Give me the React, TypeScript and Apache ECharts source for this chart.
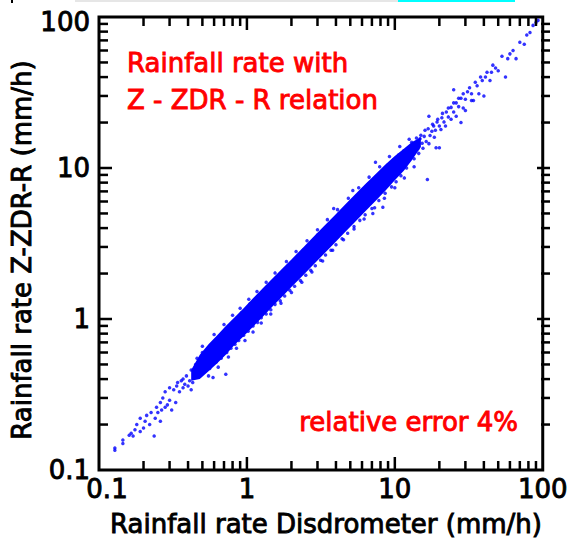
import React, { useEffect, useRef } from "react";
import * as echarts from "echarts";

const axisMin = 0.1;
const axisMax = 100;
const tickLabels = ["0.1", "1", "10", "100"];
const minorTicks = [0.2, 0.3, 0.4, 0.5, 0.6, 0.7, 0.8, 0.9, 2, 3, 4, 5, 6, 7, 8, 9, 20, 30, 40, 50, 60, 70, 80, 90];
const majorTicks = [1, 10];

// dense core of the point cloud (envelope)
const coreX = [0.42, 0.48, 0.55, 0.63, 0.72, 0.82, 0.95, 1.1, 1.3, 1.5, 1.75, 2.0, 2.4, 2.8, 3.3, 3.9, 4.6, 5.4, 6.3, 7.4, 8.6, 10, 11.5, 13, 15];
const coreHigh = [0.46, 0.58, 0.68, 0.78, 0.9, 1.02, 1.18, 1.37, 1.62, 1.87, 2.18, 2.48, 2.98, 3.48, 4.1, 4.83, 5.7, 6.7, 7.8, 9.1, 10.5, 12.0, 13.4, 14.8, 16];
const coreLow = [0.39, 0.4, 0.45, 0.51, 0.58, 0.67, 0.77, 0.89, 1.05, 1.22, 1.42, 1.63, 1.95, 2.28, 2.68, 3.17, 3.75, 4.4, 5.15, 6.05, 7.05, 8.3, 9.6, 11.2, 13.8];

const lowTail = [
  [0.128, 0.14], [0.128, 0.135], [0.145, 0.158], [0.145, 0.15], [0.16, 0.17], [0.165, 0.175], [0.17, 0.168],
  [0.175, 0.185], [0.18, 0.2], [0.19, 0.18], [0.19, 0.22], [0.2, 0.19], [0.205, 0.21], [0.21, 0.23], [0.22, 0.2],
  [0.225, 0.24], [0.236, 0.168], [0.24, 0.22], [0.245, 0.26], [0.25, 0.24], [0.26, 0.21], [0.26, 0.28],
  [0.265, 0.25], [0.27, 0.3], [0.28, 0.26], [0.28, 0.33], [0.29, 0.27], [0.3, 0.35], [0.3, 0.29], [0.31, 0.25],
  [0.32, 0.34], [0.33, 0.28], [0.335, 0.36], [0.34, 0.38], [0.35, 0.33], [0.36, 0.39], [0.37, 0.4], [0.37, 0.35],
  [0.38, 0.37], [0.39, 0.42], [0.4, 0.36], [0.42, 0.34], [0.41, 0.39], [0.42, 0.46], [0.43, 0.38], [0.44, 0.42], [0.45, 0.5],
];

const fringe = [
  [0.46, 0.55], [0.48, 0.42], [0.5, 0.6], [0.52, 0.45], [0.55, 0.64], [0.56, 0.47], [0.59, 0.41], [0.6, 0.7],
  [0.62, 0.52], [0.65, 0.76], [0.67, 0.55], [0.7, 0.82], [0.72, 0.43], [0.73, 0.6], [0.76, 0.9], [0.78, 0.64],
  [0.8, 0.95], [0.83, 0.68], [0.86, 1.02], [0.88, 0.72], [0.92, 1.1], [0.95, 0.78], [0.98, 1.15], [1.02, 0.83],
  [1.05, 1.26], [1.1, 0.9], [1.12, 1.32], [1.18, 0.95], [1.2, 1.42], [1.25, 1.02], [1.3, 1.55], [1.35, 1.08],
  [1.4, 1.65], [1.45, 1.15], [1.5, 1.78], [1.55, 1.25], [1.6, 1.9], [1.68, 1.32], [1.75, 2.05], [1.8, 1.42],
  [1.9, 2.25], [1.95, 1.55], [2.05, 2.4], [2.1, 1.65], [2.2, 2.6], [2.3, 1.8], [2.4, 2.85], [2.5, 1.95],
  [2.6, 3.05], [2.7, 2.1], [2.8, 3.3], [2.9, 2.25], [3.0, 3.6], [3.15, 2.45], [3.3, 3.9], [3.4, 2.65],
  [3.55, 4.2], [3.7, 2.85], [3.86, 5.4], [3.9, 4.6], [4.0, 3.1], [4.2, 5.0], [4.4, 3.4], [4.6, 5.4],
  [4.8, 3.7], [5.0, 5.9], [5.2, 7.1], [5.3, 4.1], [5.5, 6.5], [5.8, 4.5], [6.0, 7.1], [6.3, 4.9],
  [6.6, 7.8], [7.0, 5.4], [7.1, 5.0], [7.4, 10.9], [7.5, 8.8], [7.8, 6.1], [8.2, 9.6], [8.3, 5.5],
  [8.6, 6.8], [9.0, 10.5], [9.5, 7.5], [9.8, 11.3], [10.2, 8.1], [10.6, 12.2], [11.0, 8.9], [11.5, 13.0], [12.0, 10.0],
];

const outer = [
  [0.5, 0.66], [0.55, 0.42], [0.6, 0.79], [0.64, 0.48], [0.7, 0.92], [0.75, 0.56], [0.8, 1.06], [0.85, 0.64],
  [0.9, 1.18], [0.97, 0.72], [1.03, 1.35], [1.1, 0.82], [1.17, 1.52], [1.25, 0.94], [1.35, 1.75], [1.45, 1.08],
  [1.55, 2.02], [1.7, 1.27], [1.85, 2.4], [2.0, 1.5], [2.15, 2.8], [2.35, 1.75], [2.55, 3.3], [2.75, 2.05],
  [3.0, 3.9], [3.25, 2.42], [3.5, 4.55], [3.8, 2.85], [4.1, 5.3], [4.5, 3.35], [4.85, 6.3], [5.3, 3.95],
  [5.7, 7.4], [6.2, 4.6], [6.7, 8.7], [7.3, 5.45], [7.9, 10.2], [8.5, 6.3], [9.2, 11.9], [10, 7.4],
  [10.8, 13.9], [11.6, 8.6], [12.5, 15.5], [13.5, 10.2],
];

const highTail = [
  [13, 14.8], [13.5, 11.5], [14, 15.8], [14.5, 12.5], [15, 16.5], [15.5, 13.5], [16, 17.8], [16.6, 8.4],
  [17, 22], [17, 14.5], [18, 19.5], [18.5, 16], [19, 13.6], [19.5, 21], [20, 13.6], [20.5, 18], [21, 23],
  [22, 19], [23, 25], [24, 21], [25, 33], [25, 27], [26, 22], [27, 29], [28, 20], [29, 25], [29, 31],
  [30, 24], [32, 34], [33, 28], [34, 28], [35, 37], [37, 31], [38, 40], [40, 30], [42, 43], [44, 38],
  [46, 48], [50, 44], [53, 55], [56, 40], [58, 53], [60, 57], [63, 60], [66, 53], [70, 68], [75, 66],
  [78, 76], [82, 79], [86, 88], [90, 92], [93, 95],
  [13.2, 13.5], [13.8, 14.5], [14.3, 13.4], [14.8, 15.6], [15.3, 14.6], [15.8, 16.2], [16.3, 15], [16.8, 18.2],
  [17.3, 16.4], [17.8, 17.5], [18.3, 19], [18.8, 17.8], [19.3, 20.2], [20, 19], [20.8, 21.5], [21.5, 20.2],
  [22.3, 23.5], [23, 21.8], [24, 25.2], [25, 23.5], [26, 27], [27, 25.5], [28, 29], [30, 28.5], [31, 32],
  [33, 31], [36, 35], [39, 38], [41, 40], [45, 43], [48, 46],
];

const FONT = "DejaVu Sans";

// plot-area layout (pixels)
const GRID = { left: 99, right: 21, top: 17, bottom: 70 };
const W = 571;
const H = 540;

export default function App() {
  const ref = useRef<HTMLDivElement>(null);

  useEffect(() => {
    const chart = echarts.init(ref.current!, null, { renderer: "svg" });
    const points = [...lowTail, ...fringe, ...outer, ...highTail];
    const labelFor = (v: number) => tickLabels[Math.round(Math.log10(v)) + 1] ?? String(v);

    const redText = (text: string, x: number, y: number, align: string) => ({
      type: "text",
      x,
      y,
      z: 10,
      style: {
        text,
        fill: "#ff0000",
        stroke: "#ff0000",
        lineWidth: 0.9,
        font: `26px "${FONT}"`,
        textAlign: align,
        textVerticalAlign: "middle",
      },
    });

    const baseGraphic: any[] = [
      { type: "rect", shape: { x: 75, y: 0, width: 440, height: 2 }, style: { fill: "#e6e6e6" } },
      { type: "rect", shape: { x: 398, y: 0, width: 117, height: 2 }, style: { fill: "#00ffff" } },
      { type: "rect", shape: { x: 11, y: 0, width: 2, height: 3 }, style: { fill: "#000" } },
      redText("Rainfall rate with", 127, 62.5, "left"),
      redText("Z - ZDR - R relation", 127, 100, "left"),
      redText("relative error 4%", 518, 422, "right"),
      {
        type: "text",
        x: 326,
        y: 524,
        style: {
          text: "Rainfall rate Disdrometer (mm/h)",
          fill: "#000",
          stroke: "#000",
          lineWidth: 0.9,
          font: `26px "${FONT}"`,
          textAlign: "center",
          textVerticalAlign: "middle",
        },
      },
      {
        type: "text",
        x: 22,
        y: 250,
        rotation: Math.PI / 2,
        style: {
          text: "Rainfall rate Z-ZDR-R (mm/h)",
          fill: "#000",
          stroke: "#000",
          lineWidth: 0.9,
          font: `26px "${FONT}"`,
          textAlign: "center",
          textVerticalAlign: "middle",
        },
      },
    ];

    chart.setOption({
      animation: false,
      backgroundColor: "#ffffff",
      grid: {
        ...GRID,
        show: true,
        borderColor: "#000",
        borderWidth: 3,
        backgroundColor: "transparent",
      },
      xAxis: {
        type: "log",
        logBase: 10,
        min: axisMin,
        max: axisMax,
        axisLine: { show: false },
        axisTick: { show: false },
        splitLine: { show: false },
        axisLabel: {
          margin: 6,
          color: "#000",
          fontFamily: FONT,
          fontSize: 26,
          textBorderColor: "#000",
          textBorderWidth: 0.9,
          formatter: (v: number) => {
            const s = labelFor(v);
            return v < 0.5 ? "{first|" + s + "}" : s;
          },
          rich: {
            first: {
              fontFamily: FONT, fontSize: 26, color: "#000",
              textBorderColor: "#000", textBorderWidth: 0.9, padding: [0, 0, 0, 16],
            },
          },
        },
      },
      yAxis: {
        type: "log",
        logBase: 10,
        min: axisMin,
        max: axisMax,
        axisLine: { show: false },
        axisTick: { show: false },
        splitLine: { show: false },
        axisLabel: {
          margin: 9,
          color: "#000",
          fontFamily: FONT,
          fontSize: 26,
          textBorderColor: "#000",
          textBorderWidth: 0.9,
          formatter: (v: number) => {
            const s = labelFor(v);
            return v > 50 ? "{last|" + s + "}" : s;
          },
          rich: {
            last: {
              fontFamily: FONT, fontSize: 26, color: "#000",
              textBorderColor: "#000", textBorderWidth: 0.9, padding: [10, 0, 0, 0],
            },
          },
        },
      },
      series: [
        {
          type: "custom",
          silent: true,
          z: 2,
          data: [[1, 1]],
          renderItem: (params: any, api: any) => {
            const up = coreX.map((x, i) => api.coord([x, coreHigh[i]]));
            const lo = coreX.map((x, i) => api.coord([x, coreLow[i]])).reverse();
            return {
              type: "polygon",
              shape: { points: [...up, ...lo] },
              style: { fill: "#0000ff" },
            };
          },
        },
        {
          type: "scatter",
          z: 3,
          symbol: "circle",
          symbolSize: 3.5,
          itemStyle: { color: "#0000ff" },
          data: points,
        },
      ],
      graphic: baseGraphic,
    });

    // tick marks: positions from the chart's own log scales (convertToPixel)
    const left = GRID.left;
    const right = W - GRID.right;
    const top = GRID.top;
    const bottom = H - GRID.bottom;
    const TW = 2.5;
    const h = TW / 2;
    const tickRects: any[] = [];
    const tickList: number[][] = [
      ...minorTicks.map((v) => [v, 9]),
      ...majorTicks.map((v) => [v, 13]),
    ];
    tickList.forEach(([v, L]) => {
      const p = chart.convertToPixel({ gridIndex: 0 }, [v, v]) as number[];
      const px = p[0];
      const py = p[1];
      if (!isFinite(px) || !isFinite(py)) return;
      const st = { fill: "#000000" };
      tickRects.push({ type: "rect", z: 100, shape: { x: px - h, y: bottom - L, width: TW, height: L }, style: st });
      tickRects.push({ type: "rect", z: 100, shape: { x: px - h, y: top, width: TW, height: L }, style: st });
      tickRects.push({ type: "rect", z: 100, shape: { x: left, y: py - h, width: L, height: TW }, style: st });
      tickRects.push({ type: "rect", z: 100, shape: { x: right - L, y: py - h, width: L, height: TW }, style: st });
    });
    chart.setOption({ graphic: [...baseGraphic, ...tickRects] });

    return () => chart.dispose();
  }, []);

  return (
    <div
      ref={ref}
      style={{ position: "absolute", left: 0, top: 0, width: W, height: H }}
    />
  );
}
